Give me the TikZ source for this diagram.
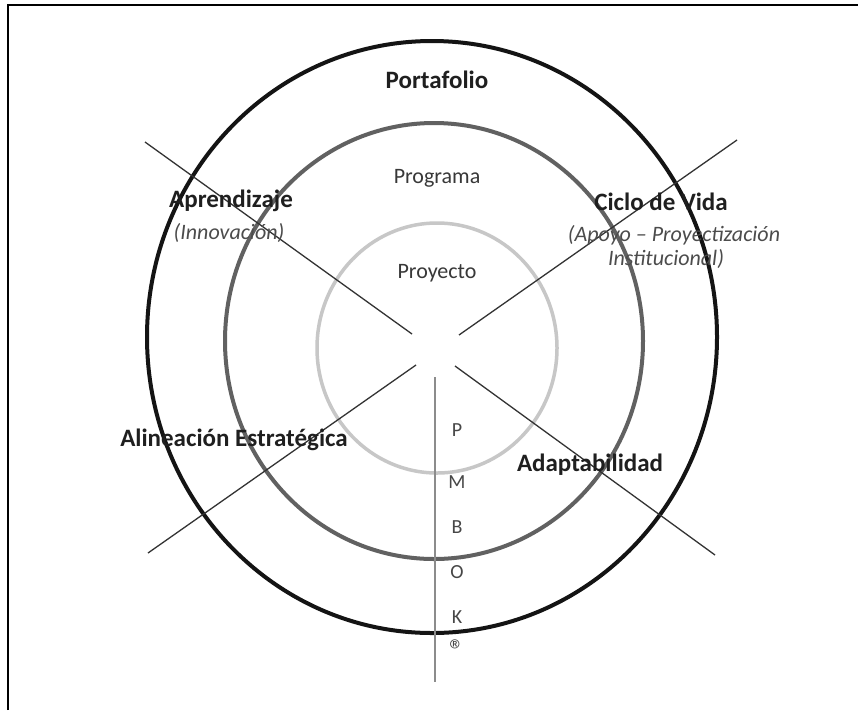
\documentclass[tikz,border=0pt]{standalone}
\usepackage{fontspec}
\setmainfont{Carlito}
\begin{document}
\begin{tikzpicture}[x=1pt,y=-1pt,
  ringouter/.style={draw=black!92,line width=4pt},
  ringmid/.style={draw=black!62,line width=4pt},
  ringinner/.style={draw=black!22,line width=3.5pt},
  spoke/.style={draw=black!80,line width=1.3pt},
  axisline/.style={draw=black!45,line width=2pt},
  headlabel/.style={font=\fontsize{25}{28}\selectfont\bfseries,text=black!88,inner sep=0pt},
  ringlabel/.style={font=\fontsize{22}{26}\selectfont,text=black!78,inner sep=0pt},
  sublabel/.style={font=\fontsize{22}{25}\selectfont\itshape,text=black!70,inner sep=0pt},
  letter/.style={font=\fontsize{20}{22}\selectfont,text=black!72,inner sep=0pt}]
\useasboundingbox (0,0) rectangle (858,710);
\fill[white] (0,0) rectangle (858,710);
% frame edges
\draw[line width=1.6pt] (8,710) -- (8,5) -- (858,5);

% concentric rings
\draw[ringouter] (432,337) ellipse [x radius=285pt, y radius=296pt];
\draw[ringmid]   (434,341) ellipse [x radius=209pt, y radius=218pt];
\draw[ringinner] (437,348) ellipse [x radius=120pt, y radius=125pt];

% spokes
\coordinate (ulA) at (145,142); \coordinate (ulB) at (412,334);
\coordinate (urA) at (737,140); \coordinate (urB) at (459,335);
\coordinate (llA) at (148,553); \coordinate (llB) at (416,365);
\coordinate (lrA) at (715,555); \coordinate (lrB) at (455,366);
\coordinate (vA) at (435,377);  \coordinate (vB) at (435,682);
\draw[spoke] (ulA) -- (ulB);
\draw[spoke] (urA) -- (urB);
\draw[spoke] (llA) -- (llB);
\draw[spoke] (lrA) -- (lrB);
\draw[axisline] (vA) -- (vB);

% ring names
\node[headlabel] (portafolio) at (437,80) {Portafolio};
\node[ringlabel] (programa) at (437,178) {Programa};
\node[ringlabel] (proyecto) at (437,273) {Proyecto};

% sector labels
\node[headlabel] (aprend) at (231,201) {Aprendizaje};
\node[sublabel] (innov) at (229,233) {(Innovación)};
\node[headlabel] (ciclo) at (661,202) {Ciclo de Vida};
\node[sublabel] (apoyo) at (674,235) {(Apoyo – Proyectización};
\node[sublabel] (instit) at (666,259) {Institucional)};
\node[headlabel] (alin) at (234,440) {Alineación Estratégica};
\node[headlabel] (adapt) at (590,465) {Adaptabilidad};

% vertical acronym
\node[letter] (p) at (457,430) {P};
\node[letter] (m) at (457,482) {M};
\node[letter] (b) at (457,527) {B};
\node[letter] (o) at (457,572) {O};
\node[letter] (k) at (457,617) {K};
\node[letter,font=\fontsize{30}{32}\selectfont] (r) at (457,650) {®};
\end{tikzpicture}
\end{document}
